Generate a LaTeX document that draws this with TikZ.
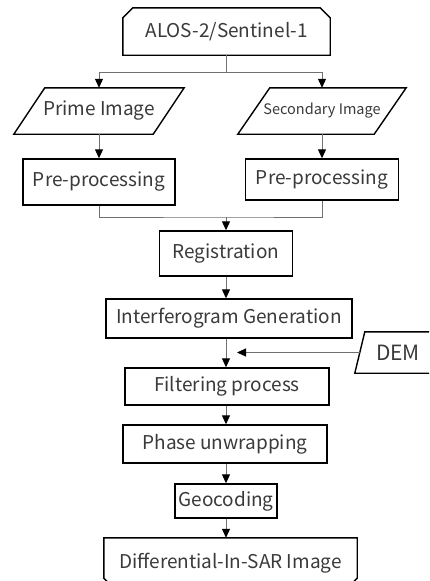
\documentclass[tikz,border=0pt]{standalone}
\usepackage{fontspec}
\setmainfont{Noto Sans CJK JP}
\usetikzlibrary{arrows.meta}
\definecolor{txtgray}{HTML}{3A3A3A}
\definecolor{linegray}{HTML}{707070}
\tikzset{
  box/.style={draw=black, line width=1.4pt, inner sep=0pt, text=txtgray,
    font=\fontsize{19}{19}\selectfont},
  txtonly/.style={inner sep=0pt, text=txtgray, font=\fontsize{19}{19}\selectfont},
  outline/.style={draw=black, line width=1.4pt, line join=miter},
  conn/.style={draw=linegray, line width=1pt},
  arr/.style={conn, -{Triangle[width=8pt,length=9pt,color=black]}},
}
\begin{document}
\begin{tikzpicture}[x=1pt,y=-1pt]
\clip (0,0) rectangle (429,581);
\useasboundingbox (0,0) rectangle (429,581);
\fill[white] (0,0) rectangle (429,581);

% data source (cut upper corners)
\node[txtonly, minimum width=207pt, minimum height=47pt] (src) at (226.5,31.5) {ALOS-2/Sentinel-1};
\draw[outline] (src.south west) -- ([yshift=-10pt]src.north west) -- ([xshift=10pt]src.north west)
  -- ([xshift=-10pt]src.north east) -- ([yshift=-10pt]src.north east) -- (src.south east) -- cycle;

% input images (parallelograms)
\node[txtonly, minimum width=139pt, minimum height=46pt] (prime) at (99,111) {Prime Image};
\draw[outline] ([xshift=15.5pt]prime.north west) -- ([xshift=15.5pt]prime.north east)
  -- ([xshift=-15.5pt]prime.south east) -- ([xshift=-15.5pt]prime.south west) -- cycle;
\node[txtonly, minimum width=136pt, minimum height=46pt,
  font=\fontsize{14.5}{14.5}\selectfont] (second) at (322,111) {Secondary Image};
\draw[outline] ([xshift=16pt]second.north west) -- ([xshift=16pt]second.north east)
  -- ([xshift=-16pt]second.south east) -- ([xshift=-16pt]second.south west) -- cycle;

% processing chain
\node[box, minimum width=152pt, minimum height=46pt] (pre1) at (99,182) {Pre-processing};
\node[box, minimum width=153pt, minimum height=41pt] (pre2) at (322,179.5) {Pre-processing};
\node[box, minimum width=133pt, minimum height=45pt] (reg) at (226,253.5) {Registration};
\node[box, minimum width=246pt, minimum height=39pt] (ifg) at (229,318.5) {Interferogram Generation};
\node[box, minimum width=204pt, minimum height=37pt] (filt) at (227,386.5) {Filtering process};
\node[box, minimum width=204pt, minimum height=38pt] (unw) at (225,444) {Phase unwrapping};
\node[box, minimum width=102pt, minimum height=34pt] (geo) at (226,501) {Geocoding};

% result (cut lower corners)
\node[txtonly, minimum width=253pt, minimum height=50pt] (dinsar) at (230.5,563) {Differential-In-SAR Image};
\draw[outline] (dinsar.north west) -- ([yshift=10pt]dinsar.south west) -- ([xshift=10pt]dinsar.south west)
  -- ([xshift=-10pt]dinsar.south east) -- ([yshift=10pt]dinsar.south east) -- (dinsar.north east) -- cycle;

% DEM input
\node[txtonly, minimum width=84pt, minimum height=41pt] (dem) at (402,352.5) {};
\node[txtonly, font=\fontsize{21}{21}\selectfont] (demtxt) at (398,352.5) {DEM};
\draw[outline] ([xshift=5pt]dem.north west) -- ([xshift=5pt]dem.north east)
  -- ([xshift=-5pt]dem.south east) -- ([xshift=-5pt]dem.south west) -- cycle;

% connectors
\coordinate (split) at ([yshift=-17pt]src.south);
\coordinate (merge) at (226,217);
\coordinate (demin) at (237,352.5);
\draw[conn] (src.south) -- (split);
\draw[arr] (split) -| (prime.north);
\draw[arr] (split) -| (second.north);
\draw[arr] (prime.south) -- (prime.south |- pre1.north);
\draw[arr] (second.south) -- (second.south |- pre2.north);
\draw[conn] (pre1.south) |- (merge) -| (pre2.south);
\draw[arr] (merge) -- (merge |- reg.north);
\draw[arr] (reg.south) -- (reg.south |- ifg.north);
\draw[arr] (reg.south |- ifg.south) -- (reg.south |- filt.north);
\draw[arr] (dem.west) -- (demin);
\draw[arr] (reg.south |- filt.south) -- (reg.south |- unw.north);
\draw[arr] (reg.south |- unw.south) -- (reg.south |- geo.north);
\draw[arr] (geo.south) -- (geo.south |- dinsar.north);
\end{tikzpicture}
\end{document}
